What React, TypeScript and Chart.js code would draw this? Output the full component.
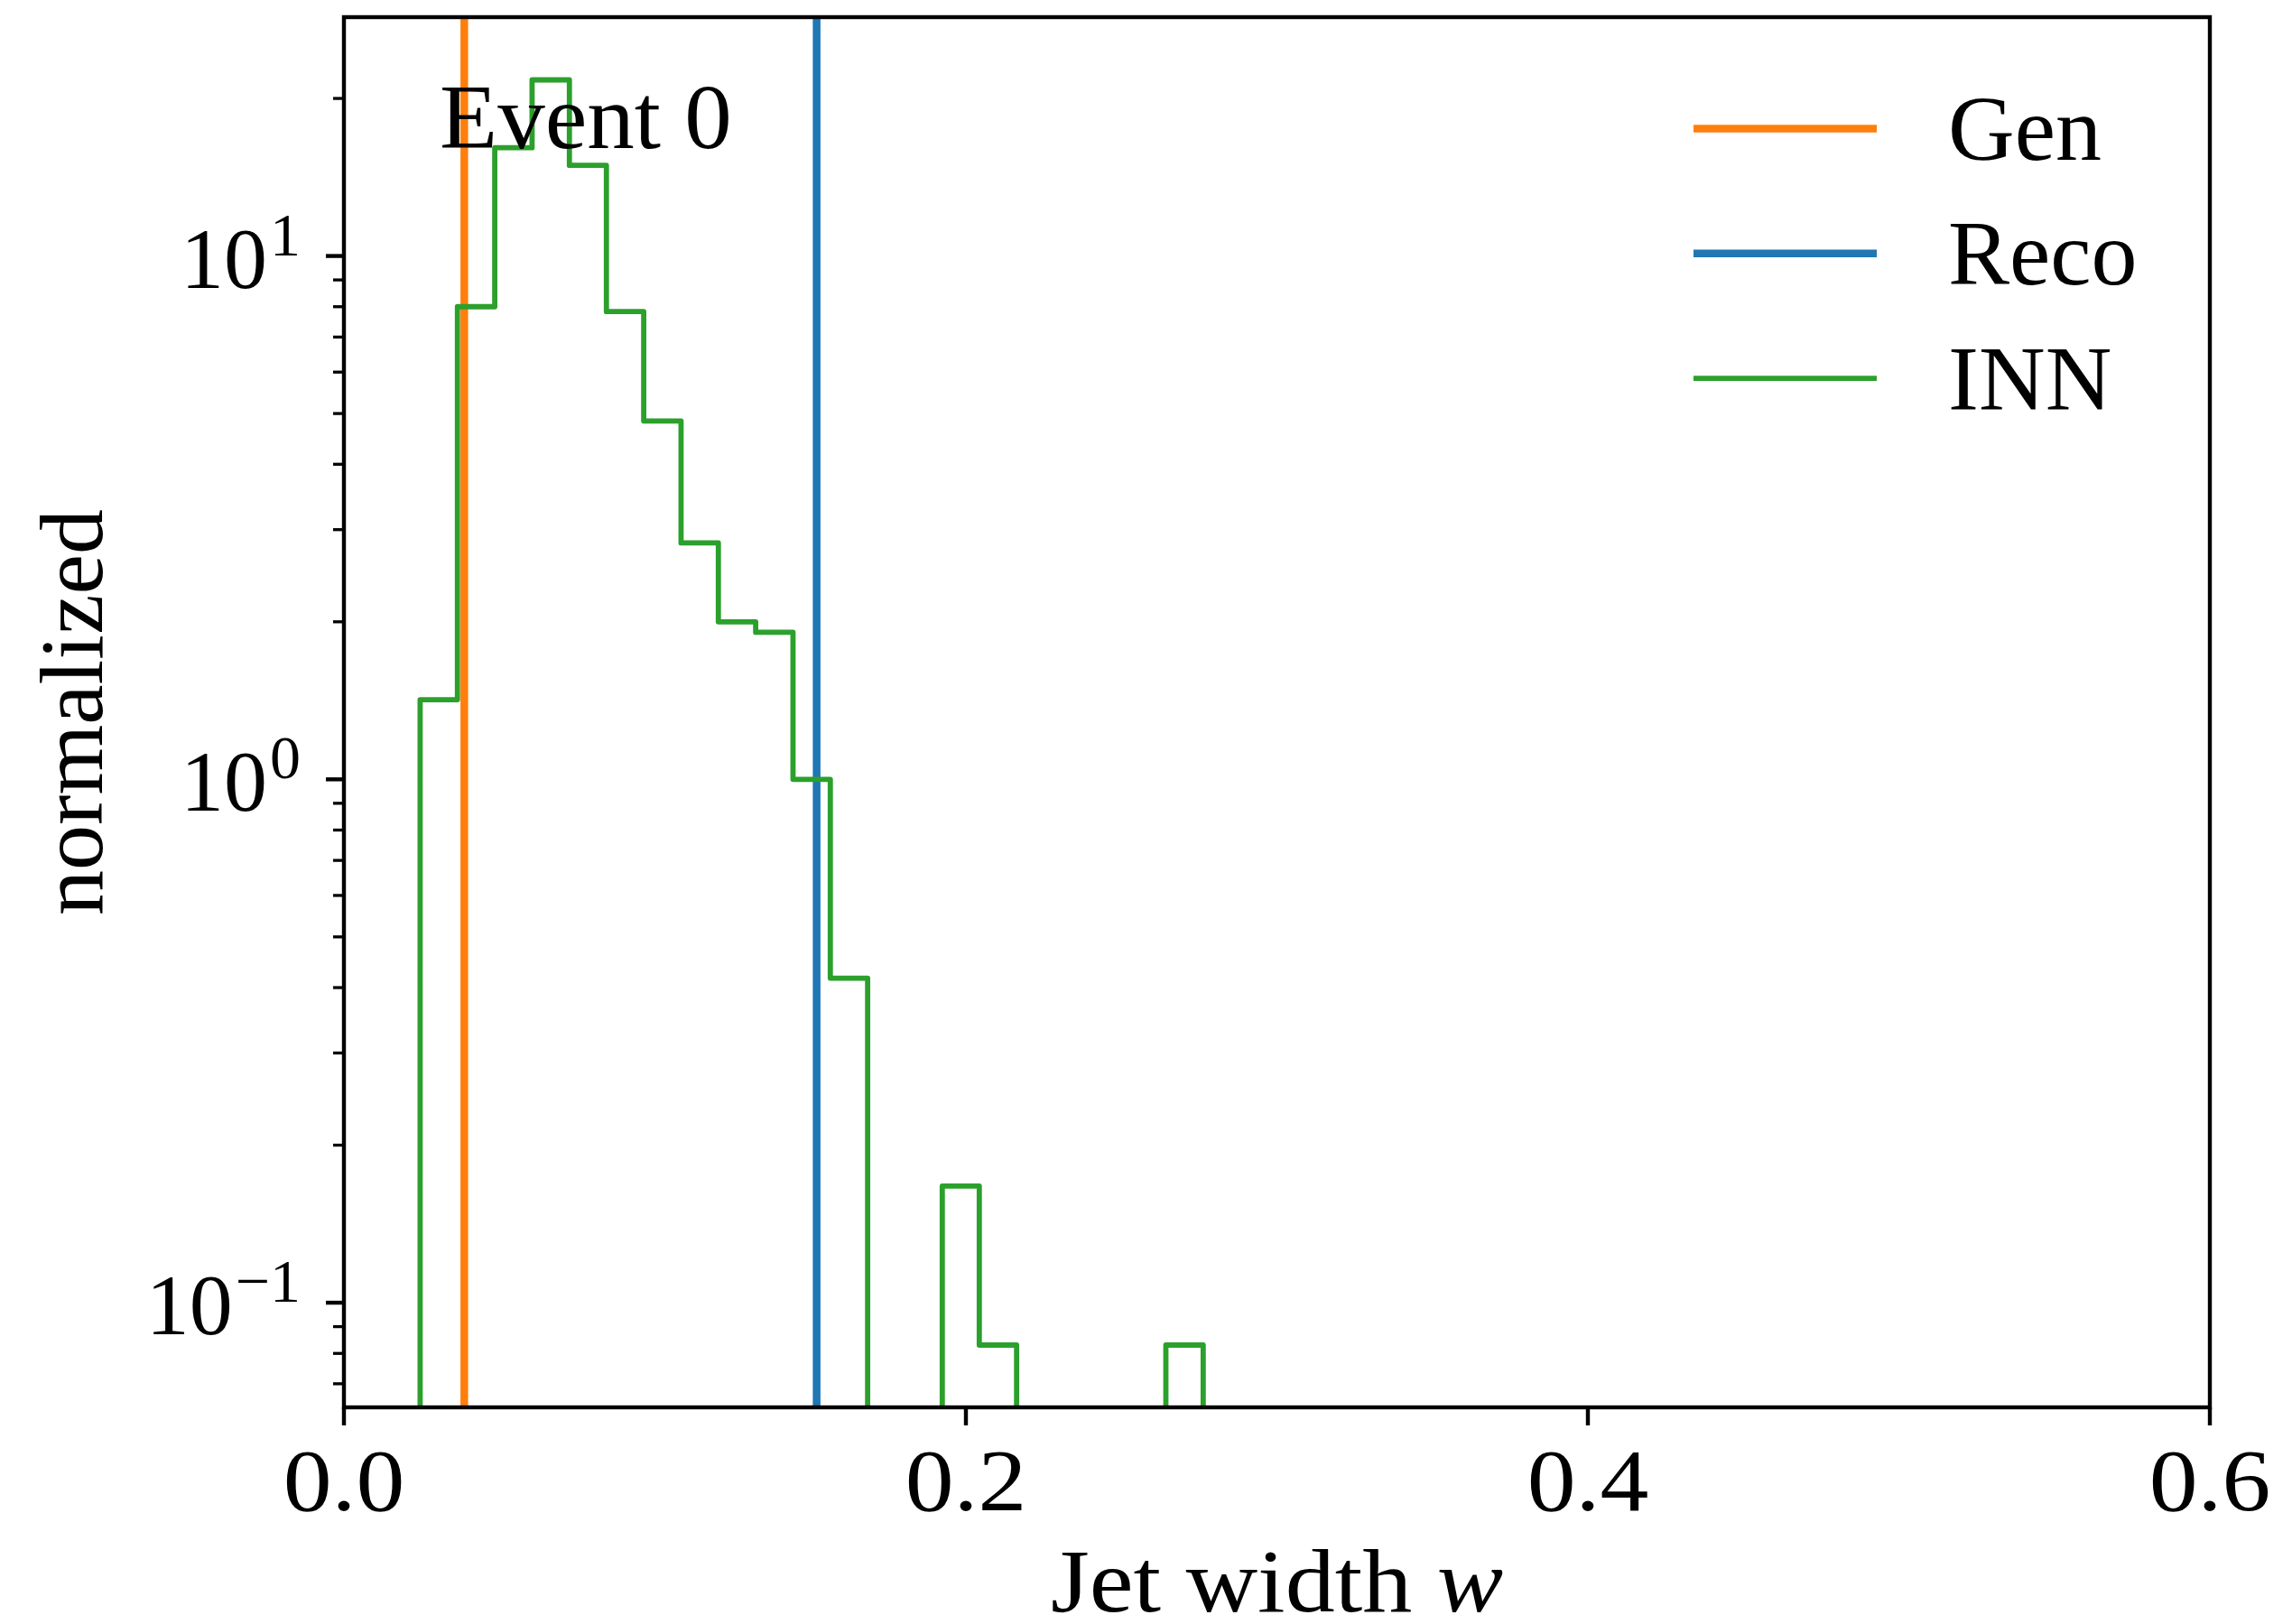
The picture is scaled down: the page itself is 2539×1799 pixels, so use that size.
import React, { useEffect, useRef } from 'react';
import { Chart, registerables } from 'chart.js';

Chart.register(...registerables);

const CANVAS_W = 2539;
const CANVAS_H = 1799;

// INN samples for event 0: step histogram, density-normalised
const INN_BIN_EDGES = [
  0.0245, 0.0365, 0.0485, 0.0605, 0.0725, 0.0844, 0.0964, 0.1084, 0.1204, 0.1324, 0.1444,
  0.1564, 0.1684, 0.1804, 0.1924, 0.2043, 0.2163, 0.2283, 0.2403, 0.2523, 0.2643, 0.2763,
];
const INN_DENSITY = [
  1.42, 8.0, 16.1, 21.7, 14.9, 7.83, 4.84, 2.83, 2.0, 1.91, 1.0, 0.417, 0, 0, 0.167, 0.083, 0, 0, 0, 0,
  0.083,
];

// true jet widths of the event
const GEN_WIDTH = 0.0387;
const RECO_WIDTH = 0.152;

// axes
const X_MIN = 0;
const X_MAX = 0.6;
const Y_MIN = 0.0631;
const Y_MAX = 28.6;
const X_TICKS = [0, 0.2, 0.4, 0.6];
const X_TICK_LABELS = ['0.0', '0.2', '0.4', '0.6'];
const Y_MAJOR_TICKS = [0.1, 1, 10];
const Y_TICK_EXPONENTS = ['\u22121', '0', '1'];
const Y_MINOR_TICKS = [
  0.07, 0.08, 0.09, 0.2, 0.3, 0.4, 0.5, 0.6, 0.7, 0.8, 0.9, 2, 3, 4, 5, 6, 7, 8, 9, 20,
];

const LEGEND_LABELS = ['Gen', 'Reco', 'INN'];
const LEGEND_COLORS = ['#ff7f0e', '#1f77b4', '#2ca02c'];
const LEGEND_WIDTHS = [8.5, 8.5, 5.8];
const ANNOTATION = 'Event 0';
const X_TITLE = 'Jet width ';
const X_TITLE_SYMBOL = 'w';
const Y_TITLE = 'normalized';

const SERIF = '"Liberation Serif", "DejaVu Serif", serif';
const BELOW_AXIS = 1e-4; // empty bins drop below the visible range

const innPoints = [
  { x: INN_BIN_EDGES[0], y: BELOW_AXIS },
  ...INN_DENSITY.map((v, i) => ({ x: INN_BIN_EDGES[i], y: v > 0 ? v : BELOW_AXIS })),
  { x: INN_BIN_EDGES[INN_BIN_EDGES.length - 1], y: BELOW_AXIS },
];

// draws text starting at x, stretched horizontally by sx
function stretchedText(ctx: CanvasRenderingContext2D, s: string, x: number, y: number, sx: number) {
  ctx.save();
  ctx.translate(x, y);
  ctx.scale(sx, 1);
  ctx.textAlign = 'left';
  ctx.fillText(s, 0, 0);
  ctx.restore();
}

const axesPlugin = {
  id: 'axesDecor',
  beforeDraw(chart: any) {
    const { ctx } = chart;
    ctx.save();
    ctx.fillStyle = '#ffffff';
    ctx.fillRect(0, 0, chart.width, chart.height);
    ctx.restore();
  },
  afterDraw(chart: any) {
    const { ctx, chartArea: a } = chart;
    const xs = chart.scales.x;
    const ys = chart.scales.y;
    ctx.save();
    ctx.strokeStyle = '#000';
    ctx.fillStyle = '#000';
    ctx.lineCap = 'butt';
    ctx.textBaseline = 'alphabetic';

    // frame
    ctx.lineWidth = 4.4;
    ctx.strokeRect(a.left, a.top, a.right - a.left, a.bottom - a.top);

    // x ticks and labels
    ctx.font = `98px ${SERIF}`;
    X_TICKS.forEach((v, i) => {
      const px = xs.getPixelForValue(v);
      ctx.beginPath();
      ctx.moveTo(px, a.bottom);
      ctx.lineTo(px, a.bottom + 20);
      ctx.lineWidth = 4.4;
      ctx.stroke();
      const sx = 1.1;
      const tw = ctx.measureText(X_TICK_LABELS[i]).width * sx;
      stretchedText(ctx, X_TICK_LABELS[i], px - tw / 2, a.bottom + 114, sx);
    });

    // y minor ticks
    Y_MINOR_TICKS.forEach((v) => {
      const py = ys.getPixelForValue(v);
      ctx.beginPath();
      ctx.moveTo(a.left, py);
      ctx.lineTo(a.left - 12, py);
      ctx.lineWidth = 3.3;
      ctx.stroke();
    });

    // y major ticks with power-of-ten labels
    Y_MAJOR_TICKS.forEach((v, i) => {
      const py = ys.getPixelForValue(v);
      ctx.beginPath();
      ctx.moveTo(a.left, py);
      ctx.lineTo(a.left - 20, py);
      ctx.lineWidth = 4.4;
      ctx.stroke();
      const baseFont = `96px ${SERIF}`;
      const supFont = `68px ${SERIF}`;
      ctx.font = baseFont;
      const wBase = ctx.measureText('10').width;
      ctx.font = supFont;
      const wSup = ctx.measureText(Y_TICK_EXPONENTS[i]).width;
      const right = a.left - 48;
      const start = right - wSup - wBase - 3;
      ctx.textAlign = 'left';
      ctx.font = baseFont;
      ctx.fillText('10', start, py + 35);
      ctx.font = supFont;
      ctx.fillText(Y_TICK_EXPONENTS[i], start + wBase + 3, py - 1);
    });

    // x axis title, regular text followed by the italic symbol
    const titleSx = 1.1;
    ctx.font = `100px ${SERIF}`;
    const wReg = ctx.measureText(X_TITLE).width * titleSx;
    ctx.font = `italic 100px ${SERIF}`;
    const wIt = ctx.measureText(X_TITLE_SYMBOL).width * titleSx;
    const cx = (a.left + a.right) / 2;
    const tx = cx - (wReg + wIt) / 2;
    ctx.font = `100px ${SERIF}`;
    stretchedText(ctx, X_TITLE, tx, a.bottom + 226, titleSx);
    ctx.font = `italic 100px ${SERIF}`;
    stretchedText(ctx, X_TITLE_SYMBOL, tx + wReg, a.bottom + 226, titleSx);

    // y axis title
    ctx.save();
    ctx.translate(113, (a.top + a.bottom) / 2);
    ctx.rotate(-Math.PI / 2);
    ctx.font = `100px ${SERIF}`;
    ctx.textAlign = 'center';
    ctx.fillText(Y_TITLE, 0, 0);
    ctx.restore();

    // event annotation
    const w = a.right - a.left;
    const h = a.bottom - a.top;
    ctx.font = `101px ${SERIF}`;
    stretchedText(ctx, ANNOTATION, a.left + 0.0513 * w, a.bottom - 0.906 * h, 1.04);

    // legend
    LEGEND_LABELS.forEach((label, i) => {
      const ly = a.top + 123.5 + i * 138.3;
      ctx.beginPath();
      ctx.moveTo(a.right - 572, ly);
      ctx.lineTo(a.right - 369, ly);
      ctx.strokeStyle = LEGEND_COLORS[i];
      ctx.lineWidth = LEGEND_WIDTHS[i];
      ctx.stroke();
      ctx.font = `102px ${SERIF}`;
      ctx.fillStyle = '#000';
      ctx.textAlign = 'left';
      ctx.fillText(label, a.right - 290, ly + 34.5);
    });

    ctx.restore();
  },
};

export default function App() {
  const canvasRef = useRef<HTMLCanvasElement | null>(null);

  useEffect(() => {
    const canvas = canvasRef.current;
    if (!canvas) return;
    const chart = new Chart(canvas, {
      type: 'line',
      data: {
        datasets: [
          {
            label: 'INN',
            data: innPoints,
            borderColor: LEGEND_COLORS[2],
            borderWidth: LEGEND_WIDTHS[2],
            stepped: 'before',
            pointRadius: 0,
            fill: false,
            borderJoinStyle: 'round',
            order: 0,
          },
          {
            label: 'Gen',
            data: [
              { x: GEN_WIDTH, y: Y_MIN },
              { x: GEN_WIDTH, y: Y_MAX },
            ],
            borderColor: LEGEND_COLORS[0],
            borderWidth: LEGEND_WIDTHS[0],
            pointRadius: 0,
            fill: false,
            order: 1,
          },
          {
            label: 'Reco',
            data: [
              { x: RECO_WIDTH, y: Y_MIN },
              { x: RECO_WIDTH, y: Y_MAX },
            ],
            borderColor: LEGEND_COLORS[1],
            borderWidth: LEGEND_WIDTHS[1],
            pointRadius: 0,
            fill: false,
            order: 2,
          },
        ],
      },
      options: {
        animation: false,
        responsive: false,
        devicePixelRatio: 1,
        events: [],
        layout: {
          autoPadding: false,
          padding: { left: 381, top: 19, right: CANVAS_W - 2448, bottom: CANVAS_H - 1559 },
        },
        plugins: {
          legend: { display: false },
          tooltip: { enabled: false },
        },
        scales: {
          x: { type: 'linear', min: X_MIN, max: X_MAX, display: false },
          y: { type: 'logarithmic', min: Y_MIN, max: Y_MAX, display: false },
        },
      },
      plugins: [axesPlugin],
    } as any);
    return () => chart.destroy();
  }, []);

  return (
    <div style={{ position: 'absolute', left: 0, top: 0, width: CANVAS_W, height: CANVAS_H }}>
      <canvas ref={canvasRef} width={CANVAS_W} height={CANVAS_H} style={{ width: CANVAS_W, height: CANVAS_H }} />
    </div>
  );
}
